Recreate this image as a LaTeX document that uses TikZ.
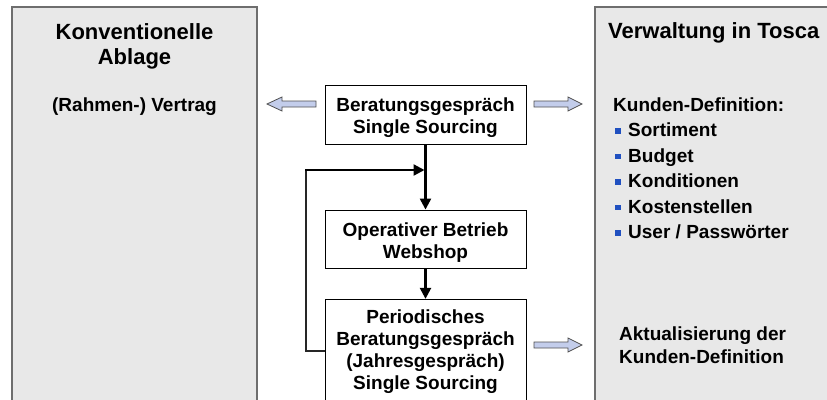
\documentclass[tikz,border=0pt]{standalone}
\usepackage{fontspec}
\setmainfont{Liberation Sans}
\usetikzlibrary{arrows.meta}
\definecolor{panelfill}{HTML}{E8E8E8}
\definecolor{panelline}{HTML}{6E6E6E}
\definecolor{arrowfill}{HTML}{C3CDEB}
\definecolor{arrowline}{HTML}{505050}
\definecolor{bulletblue}{HTML}{2050C0}
\tikzset{
  panel/.style={draw=panelline, line width=1.6pt, fill=panelfill},
  flowbox/.style={draw=black, line width=0.9pt, fill=white, inner sep=0pt},
  boxtext/.style={font=\fontsize{19}{22}\selectfont\bfseries, align=center, inner sep=0pt},
  titletext/.style={font=\fontsize{22}{25.5}\selectfont\bfseries, align=center, inner sep=0pt},
  bodytext/.style={font=\fontsize{19}{23}\selectfont\bfseries, inner sep=0pt},
  flow/.style={draw=black, line width=2.3pt, -{Triangle[length=11pt,width=11pt]}},
  feedback/.style={draw=black!85, line width=1.5pt},
  blockarrow/.style={draw=arrowline, line width=0.8pt, fill=arrowfill, line join=miter},
  bulletsq/.style={fill=bulletblue, minimum size=5.5pt, inner sep=0pt},
}
\begin{document}
\begin{tikzpicture}[x=1pt, y=-1pt]
\useasboundingbox (0,0) rectangle (827,399);
\clip (0,0) rectangle (827,399);
% panels
\draw[panel] (12,7) rectangle (257,420);
\draw[panel] (595,7) rectangle (860,420);
% left panel texts
\node[titletext] (ltitle) at (134.5,46.5) {Konventionelle\\Ablage};
\node[bodytext, anchor=base] (vertrag) at (134.5,111) {(Rahmen-) Vertrag};
% right panel texts
\node[titletext, anchor=base west] (rtitle) at (608,38.5) {Verwaltung in Tosca};
\node[bodytext, anchor=base west] (kdef) at (613,111.7) {Kunden-Definition:};
\node[bodytext, anchor=base west] (item1) at (628,136.7) {Sortiment};
\node[bodytext, anchor=base west] (item2) at (628,162) {Budget};
\node[bodytext, anchor=base west] (item3) at (628,187.5) {Konditionen};
\node[bodytext, anchor=base west] (item4) at (628,213) {Kostenstellen};
\node[bodytext, anchor=base west] (item5) at (628,238.3) {User / Passwörter};
\node[bulletsq] (bul1) at (618,131.2) {};
\node[bulletsq] (bul2) at (618,156.5) {};
\node[bulletsq] (bul3) at (618,182) {};
\node[bulletsq] (bul4) at (618,207.5) {};
\node[bulletsq] (bul5) at (618,232.8) {};
\node[bodytext, anchor=base west] (akt1) at (619,340.5) {Aktualisierung der};
\node[bodytext, anchor=base west] (akt2) at (619,363.5) {Kunden-Definition};
% flow boxes
\node[flowbox, minimum width=201pt, minimum height=59pt] (b1) at (425.5,114.5) {};
\node[boxtext] (b1t) at (425.5,117.6) {Beratungsgespräch\\Single Sourcing};
\node[flowbox, minimum width=201pt, minimum height=58pt] (b2) at (425.5,239) {};
\node[boxtext] (b2t) at (425.5,242.2) {Operativer Betrieb\\Webshop};
\node[flowbox, minimum width=201pt, minimum height=120pt] (b3) at (425.5,359.3) {};
\node[boxtext] (b3t) at (425.5,352) {Periodisches\\Beratungsgespräch\\(Jahresgespräch)\\Single Sourcing};
% connectors
\coordinate (fbl) at (306,351);
\coordinate (fbt) at (306,170);
\coordinate (join) at (424.5,170);
\coordinate (b3w) at (325,351);
\draw[feedback] (b3w) -- (fbl) -- (fbt);
\draw[flow] (b1.south) -- (b2.north);
\draw[flow] (b2.south) -- (b3.north);
\draw[flow, shorten <=-0.75pt] (fbt) -- (join);
% block arrows
\draw[blockarrow] (316,101) -- (282,101) -- (282,97) -- (267,104) -- (282,111) -- (282,107) -- (316,107) -- cycle;
\draw[blockarrow] (534,101) -- (568,101) -- (568,97) -- (582,104) -- (568,111) -- (568,107) -- (534,107) -- cycle;
\draw[blockarrow] (534,342) -- (568,342) -- (568,338) -- (582,345) -- (568,352) -- (568,348) -- (534,348) -- cycle;
\end{tikzpicture}
\end{document}
